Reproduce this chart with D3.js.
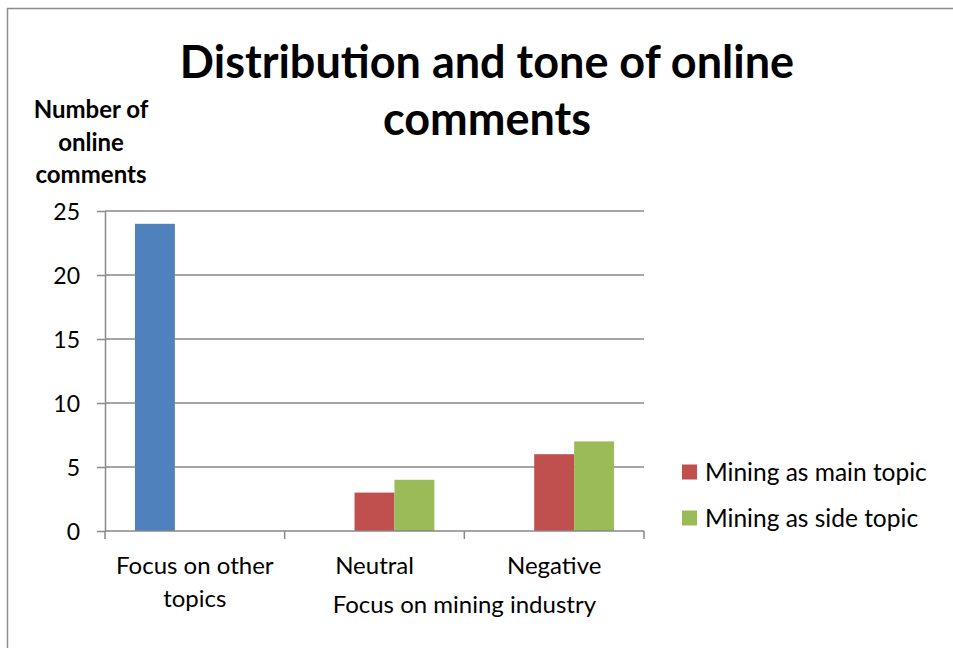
<!DOCTYPE html>
<html>
<head>
<meta charset="utf-8">
<script src="https://cdn.jsdelivr.net/npm/d3@7"></script>
<style>
  html, body { margin: 0; padding: 0; background: #fff; }
  svg { display: block; font-family: Lato, "Open Sans", sans-serif; }
</style>
</head>
<body>
<svg id="chart" width="953" height="648"></svg>
<script>
// Categories and their wrapped axis labels
const categories = ["Focus on other topics", "Neutral", "Negative"];
const categoryLines = [["Focus on other", "topics"], ["Neutral"], ["Negative"]];
const groupLabel = "Focus on mining industry";

// Series (blue series carries no legend entry)
const seriesNames = ["Focus on other topics", "Mining as main topic", "Mining as side topic"];
const otherTopics = [24, 0, 0];
const mainTopic = [0, 3, 6];
const sideTopic = [0, 4, 7];
const seriesColors = ["#4F81BD", "#C0504D", "#9BBB59"];
const legendSeries = [1, 2];

const yTicks = [0, 5, 10, 15, 20, 25];
const titleLines = ["Distribution and tone of online", "comments"];
const yTitleLines = ["Number of", "online", "comments"];

const svg = d3.select("#chart");
const grid = "#898989";

// Outer chart frame
svg.append("rect")
  .attr("x", 7.5).attr("y", 8.5)
  .attr("width", 960).attr("height", 660)
  .attr("fill", "none").attr("stroke", "#8c8c8c").attr("stroke-width", 1.5);

const plot = { left: 105, right: 644, top: 211, bottom: 531 };

const x0 = d3.scaleBand().domain(categories).range([plot.left, plot.right]).padding(0);
const x1 = d3.scaleBand().domain(seriesNames).range([0, x0.bandwidth()])
  .paddingInner(0).paddingOuter(0.75);
const y = d3.scaleLinear().domain([0, 25]).range([plot.bottom, plot.top]);

// Horizontal gridlines
svg.append("g").selectAll("line")
  .data(yTicks.filter(t => t > 0))
  .join("line")
  .attr("x1", plot.left).attr("x2", plot.right)
  .attr("y1", d => y(d)).attr("y2", d => y(d))
  .attr("stroke", grid).attr("stroke-width", 1.5);

// Y axis with outside tick marks
const yAxis = svg.append("g")
  .attr("transform", `translate(${plot.left},0)`)
  .call(d3.axisLeft(y).tickValues(yTicks).tickSize(8).tickSizeOuter(0).tickPadding(17));
yAxis.select(".domain").attr("stroke", grid).attr("stroke-width", 1.5);
yAxis.selectAll(".tick line").attr("stroke", grid).attr("stroke-width", 1.5);
yAxis.selectAll(".tick text")
  .attr("fill", "#000").attr("font-size", 23).attr("font-family", "Lato, sans-serif")
  .attr("dy", "0.36em");

// Bars
const seriesData = [otherTopics, mainTopic, sideTopic];
const barGroup = svg.append("g");
seriesData.forEach((vals, si) => {
  barGroup.selectAll(null)
    .data(vals.map((v, i) => ({ cat: categories[i], v })).filter(d => d.v > 0))
    .join("rect")
    .attr("x", d => x0(d.cat) + x1(seriesNames[si]))
    .attr("width", x1.bandwidth())
    .attr("y", d => y(d.v))
    .attr("height", d => y(0) - y(d.v))
    .attr("fill", seriesColors[si]);
});

// X axis line and category boundary ticks
const xAxis = svg.append("g");
xAxis.append("line")
  .attr("x1", plot.left).attr("x2", plot.right)
  .attr("y1", y(0)).attr("y2", y(0))
  .attr("stroke", grid).attr("stroke-width", 1.5);
const bounds = categories.map(c => x0(c)).concat([plot.right]);
xAxis.selectAll(".btick").data(bounds).join("line")
  .attr("class", "btick")
  .attr("x1", d => d).attr("x2", d => d)
  .attr("y1", y(0)).attr("y2", y(0) + 8)
  .attr("stroke", grid).attr("stroke-width", 1.5);

// Category labels
categoryLines.forEach((lines, i) => {
  const cx = x0(categories[i]) + x0.bandwidth() / 2;
  lines.forEach((ln, j) => {
    svg.append("text")
      .attr("x", cx).attr("y", 574 + j * 33)
      .attr("text-anchor", "middle")
      .attr("font-size", 24).attr("fill", "#000")
      .text(ln);
  });
});
// Group label spanning the mining categories
svg.append("text")
  .attr("x", (x0(categories[1]) + plot.right) / 2).attr("y", 613)
  .attr("text-anchor", "middle")
  .attr("font-size", 24).attr("fill", "#000")
  .text(groupLabel);

// Title
titleLines.forEach((ln, j) => {
  svg.append("text")
    .attr("x", 487).attr("y", 78 + j * 57)
    .attr("text-anchor", "middle")
    .attr("font-size", 45).attr("font-weight", "bold").attr("fill", "#000")
    .text(ln);
});

// Y axis title
yTitleLines.forEach((ln, j) => {
  svg.append("text")
    .attr("x", 91).attr("y", 118 + j * 32.5)
    .attr("text-anchor", "middle")
    .attr("font-size", 24).attr("font-weight", "bold").attr("fill", "#000")
    .text(ln);
});

// Legend
const legend = svg.append("g");
legendSeries.forEach((si, k) => {
  const ly = 472 + k * 46;
  legend.append("rect")
    .attr("x", 682).attr("y", ly - 7.5)
    .attr("width", 15).attr("height", 15)
    .attr("fill", seriesColors[si]);
  legend.append("text")
    .attr("x", 705).attr("y", ly + 8.5)
    .attr("font-size", 24.5).attr("fill", "#000")
    .text(seriesNames[si]);
});
</script>
</body>
</html>
